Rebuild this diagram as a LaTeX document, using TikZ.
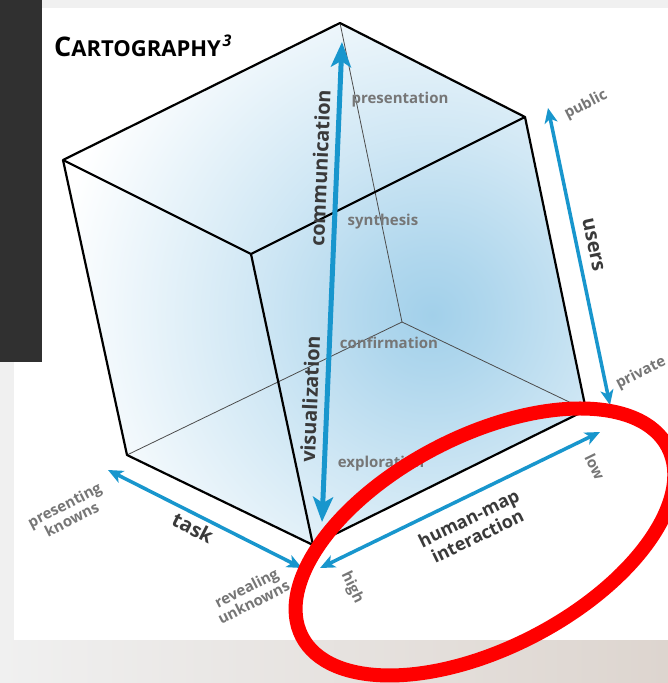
\documentclass[tikz,border=0pt]{standalone}
\usepackage{fontspec}
\setmainfont{Open Sans}
\usetikzlibrary{arrows.meta}
\definecolor{axisblue}{RGB}{24,150,205}
\definecolor{labelgray}{RGB}{118,118,118}
\definecolor{namegray}{RGB}{58,58,58}
\definecolor{cubeblue}{RGB}{162,208,234}
\definecolor{panelgray}{RGB}{48,48,48}
\definecolor{pagegray}{RGB}{240,240,240}
\definecolor{sandgray}{RGB}{221,213,207}
\definecolor{markred}{RGB}{255,0,0}
\pgfdeclareradialshading{cubeglow}{\pgfpoint{0bp}{0bp}}{%
  color(0bp)=(cubeblue); color(60bp)=(cubeblue!85!white);
  color(180bp)=(cubeblue!50!white); color(380bp)=(white); color(440bp)=(white)}
\begin{document}
\begin{tikzpicture}[x=1pt,y=-1pt,
  edge/.style={line width=2.2pt, line join=round},
  hidden/.style={line width=0.8pt, black!70},
  axis/.style={axisblue, line width=3.5pt,
    {Stealth[length=15pt,width=13pt,inset=4pt]}-{Stealth[length=15pt,width=13pt,inset=4pt]}},
  bigaxis/.style={axisblue, line width=5pt,
    {Stealth[length=25pt,width=20pt,inset=6pt]}-{Stealth[length=25pt,width=20pt,inset=6pt]}},
  axisname/.style={font=\fontsize{20}{21}\selectfont\bfseries, text=namegray, inner sep=0pt, align=center},
  endlabel/.style={font=\fontsize{15}{16}\selectfont\bfseries, text=labelgray, inner sep=0pt, align=center},
  stage/.style={font=\fontsize{15}{16}\selectfont\bfseries, text=labelgray, inner sep=1pt}
]
\useasboundingbox (0,0) rectangle (668,683);

% page, card and side panel
\fill[pagegray] (0,0) rectangle (668,683);
\shade[left color=pagegray, right color=sandgray] (0,640) rectangle (668,683);
\fill[white] (14,8) rectangle (668,640);
\fill[panelgray] (0,0) rectangle (42,362);

% cube corners
\coordinate (top) at (340,23);
\coordinate (left) at (63,160);
\coordinate (rtop) at (525,117);
\coordinate (front) at (251,254);
\coordinate (back) at (402,322);
\coordinate (lbot) at (127,455);
\coordinate (rbot) at (586,410);
\coordinate (fbot) at (313,545);

% cube fill
\begin{scope}
\clip (top) -- (rtop) -- (rbot) -- (fbot) -- (lbot) -- (left) -- cycle;
\node[inner sep=0pt] (glow) at (432,315) {\pgfuseshading{cubeglow}};
\end{scope}

% hidden edges
\draw[hidden] (top) -- (back);
\draw[hidden] (lbot) -- (back);
\draw[hidden] (rbot) -- (back);

% visible edges
\draw[edge] (top) -- (rtop) -- (rbot) -- (fbot) -- (lbot) -- (left) -- cycle;
\draw[edge] (left) -- (front) -- (rtop);
\draw[edge] (front) -- (fbot);

% axis ends
\coordinate (vislow) at (322,522);
\coordinate (comhigh) at (342,42);
\coordinate (pub) at (548,108);
\coordinate (priv) at (610,405);
\coordinate (known) at (108,470);
\coordinate (unknown) at (302,568);
\coordinate (ihigh) at (320,568);
\coordinate (ilow) at (600,432);

\draw[bigaxis] (vislow) -- (comhigh);
\draw[axis] (pub) -- (priv);
\draw[axis] (known) -- (unknown);
\draw[axis] (ihigh) -- (ilow);

% stages inside the cube
\node[stage] (pres) at (400,100) {presentation};
\node[stage] (synt) at (383,222) {synthesis};
\node[stage] (conf) at (389,343) {confirmation};
\node[stage] (expl) at (381,464) {exploration};

% axis names
\node[axisname, rotate=87.6] (comm) at (320,168) {communication};
\node[axisname, rotate=87.6] (visu) at (310,399) {visualization};
\node[axisname, rotate=-78] (users) at (593,245) {users};
\node[axisname, rotate=-27] (task) at (193,528) {task};
\node[axisname, font=\fontsize{18}{20}\selectfont\bfseries, rotate=26] (hmi) at (473,527) {human-map\\interaction};

% axis end labels
\node[endlabel, rotate=27] (publ) at (586,105) {public};
\node[endlabel, rotate=27] (prvl) at (641,373) {private};
\node[endlabel, rotate=27] (knwl) at (68,512) {presenting\\knowns};
\node[endlabel, rotate=27] (unkl) at (250,595) {revealing\\unknowns};
\node[endlabel, rotate=-64] (highl) at (352,588) {high};
\node[endlabel, rotate=-64] (lowl) at (595,467) {low};

% title
\node[anchor=base west, inner sep=0pt] (title) at (54,56)
  {\bfseries{\fontsize{27}{27}\selectfont C}{\fontsize{22}{22}\selectfont ARTOGRAPHY}\,\raisebox{10pt}{\fontsize{16}{16}\selectfont\itshape 3}};

% red mark
\coordinate (mark) at (485,542);
\draw[markred, line width=14pt, rotate around={27.35:(mark)}] (mark) ellipse [x radius=206, y radius=106];
\end{tikzpicture}
\end{document}
